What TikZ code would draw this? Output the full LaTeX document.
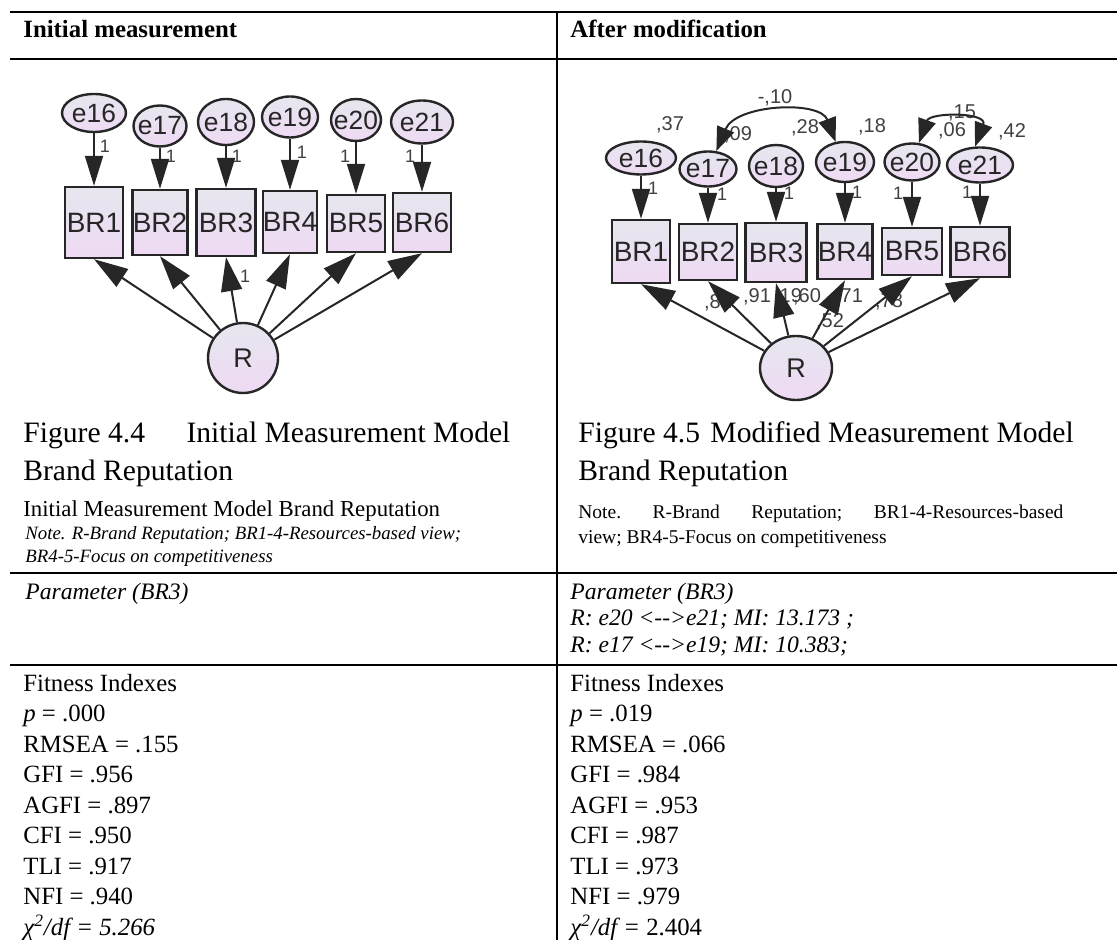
\documentclass[tikz,border=0pt]{standalone}
\usepackage{fontspec}
\setmainfont{Liberation Serif}
\newfontfamily\semfont{Liberation Sans}
\usetikzlibrary{arrows.meta,shapes.geometric}

\definecolor{inktone}{HTML}{262626}
\definecolor{semtop}{HTML}{E7E6EF}
\definecolor{sembot}{HTML}{EEDAF3}
\definecolor{numgray}{HTML}{404040}

\newcommand{\fsz}[1]{\fontsize{#1pt}{#1pt}\selectfont}

\tikzset{
  rule/.style={line width=0.8pt, black},
  body/.style={anchor=base west, inner sep=0pt, font=\fsz{12.4}},
  obsbox/.style={rectangle, draw=inktone, line width=1.2pt, top color=semtop, bottom color=sembot,
    font=\semfont\fsz{14}, text=inktone, inner sep=0pt},
  errnode/.style={ellipse, draw=inktone, line width=1.2pt, top color=semtop, bottom color=sembot,
    font=\semfont\fsz{13.2}, text=inktone, inner sep=0pt},
  latnode/.style={draw=inktone, line width=1.2pt, top color=semtop, bottom color=sembot,
    font=\semfont\fsz{13.5}, text=inktone, inner sep=0pt},
  reg/.style={line width=1pt, draw=inktone, -{Triangle[length=15pt,width=9pt]}},
  load/.style={line width=1pt, draw=inktone, -{Triangle[length=17pt,width=10.5pt]}},
  cov/.style={line width=1pt, draw=inktone,
    {Triangle[length=12pt,width=9pt]}-{Triangle[length=12pt,width=9pt]}},
  est/.style={font=\semfont\fsz{10}, text=numgray, inner sep=0pt},
  one/.style={font=\semfont\fsz{9}, text=numgray, inner sep=0pt},
}

\begin{document}
\begin{tikzpicture}[x=0.5pt,y=-0.5pt]
\useasboundingbox (0,0) rectangle (1117,940);
\fill[white] (0,0) rectangle (1117,940);

% ---------- table rules ----------
\draw[rule] (10,12) -- (1117,12);
\draw[rule] (10,59) -- (1117,59);
\draw[rule] (10,573) -- (1117,573);
\draw[rule] (10,665) -- (1117,665);
\draw[rule] (557,12) -- (557,940);

% ---------- headers ----------
\node[body, font=\bfseries\fsz{12.4}] (headL) at (23,38) {Initial measurement};
\node[body, font=\bfseries\fsz{12.4}] (headR) at (570,38) {After modification};

% ---------- initial model ----------
\node[obsbox, minimum width=29pt,   minimum height=35.5pt] (LB1) at (94,222.5)  {BR1};
\node[obsbox, minimum width=27.5pt, minimum height=32.5pt] (LB2) at (160,222.5) {BR2};
\node[obsbox, minimum width=29.5pt, minimum height=33.5pt] (LB3) at (226,222.5) {BR3};
\node[obsbox, minimum width=26.5pt, minimum height=31pt]   (LB4) at (290,222)   {BR4};
\node[obsbox, minimum width=29pt,   minimum height=28.5pt] (LB5) at (356,223.5) {BR5};
\node[obsbox, minimum width=29pt,   minimum height=29.5pt] (LB6) at (422,222.5) {BR6};

\node[errnode, minimum width=32pt,   minimum height=19pt]   (LE16) at (94,113)  {\makebox[0pt]{e16}};
\node[errnode, minimum width=26.5pt, minimum height=20.5pt] (LE17) at (160,126) {\makebox[0pt]{e17}};
\node[errnode, minimum width=28pt,   minimum height=23pt]   (LE18) at (226,122) {\makebox[0pt]{e18}};
\node[errnode, minimum width=28pt,   minimum height=20.5pt] (LE19) at (290,117) {\makebox[0pt]{e19}};
\node[errnode, minimum width=25pt,   minimum height=21pt]   (LE20) at (356,120) {\makebox[0pt]{e20}};
\node[errnode, minimum width=31pt,   minimum height=21.5pt] (LE21) at (422,122) {\makebox[0pt]{e21}};

\node[latnode, circle, minimum size=35pt] (LR) at (243,358) {R};

\node[one] (l1a) at (105,146) {1};
\node[one] (l1b) at (171,156) {1};
\node[one] (l1c) at (237,156) {1};
\node[one] (l1d) at (302,152) {1};
\node[one] (l1e) at (345,156) {1};
\node[one] (l1f) at (410,156) {1};
\node[one] (l1g) at (245,276) {1};

\draw[reg] (LE16) -- (LB1);
\draw[reg] (LE17) -- (LB2);
\draw[reg] (LE18) -- (LB3);
\draw[reg] (LE19) -- (LB4);
\draw[reg] (LE20) -- (LB5);
\draw[reg] (LE21) -- (LB6);
\foreach \b in {LB1,LB2,LB3,LB4,LB5,LB6}
  \draw[load] (LR) -- (\b.south);

% ---------- modified model ----------
\node[obsbox, minimum width=29pt,   minimum height=31.5pt] (RB1) at (641,251.5) {BR1};
\node[obsbox, minimum width=29pt,   minimum height=28pt]   (RB2) at (708,252)   {BR2};
\node[obsbox, minimum width=30.5pt, minimum height=29.5pt] (RB3) at (776,252.5) {BR3};
\node[obsbox, minimum width=27.5pt, minimum height=27.5pt] (RB4) at (845,251.5) {BR4};
\node[obsbox, minimum width=30pt,   minimum height=23.5pt] (RB5) at (912,251.5) {BR5};
\node[obsbox, minimum width=29.5pt, minimum height=25pt]   (RB6) at (980,252)   {BR6};

\node[errnode, minimum width=35pt,   minimum height=16.5pt] (RE16) at (641,158) {\makebox[0pt]{e16}};
\node[errnode, minimum width=28.5pt, minimum height=17.5pt] (RE17) at (708,169) {\makebox[0pt]{e17}};
\node[errnode, minimum width=27pt,   minimum height=21pt]   (RE18) at (776,166) {\makebox[0pt]{e18}};
\node[errnode, minimum width=29pt,   minimum height=20pt]   (RE19) at (845,162) {\makebox[0pt]{e19}};
\node[errnode, minimum width=27.5pt, minimum height=18.5pt] (RE20) at (912,162) {\makebox[0pt]{e20}};
\node[errnode, minimum width=33pt,   minimum height=17.5pt] (RE21) at (980,165) {\makebox[0pt]{e21}};

\node[latnode, ellipse, minimum width=36pt, minimum height=32pt] (RR) at (796,368) {\makebox[0pt]{R}};

% variances and covariances
\node[est] (v16) at (670,125) {,37};
\node[est] (v17) at (738,135) {,09};
\node[est] (v18) at (805,128) {,28};
\node[est] (v19) at (872,127) {,18};
\node[est] (v20) at (952,131) {,06};
\node[est] (v21) at (1012,132) {,42};
\node[est] (c1719) at (775,98) {-,10};
\node[est] (c2021) at (962,113) {,15};
% standardized loadings
\node[est] (w1) at (718,303) {,82};
\node[est] (w2) at (757,297) {,91};
\node[est] (w3) at (788,297) {,19};
\node[est] (w4) at (807,297) {,60};
\node[est] (w5) at (849,297) {,71};
\node[est] (w6) at (830,322) {,52};
\node[est] (w7) at (889,302) {,78};

\node[one] (r1a) at (653,188) {1};
\node[one] (r1b) at (722,194) {1};
\node[one] (r1c) at (789,193) {1};
\node[one] (r1d) at (857,192) {1};
\node[one] (r1e) at (898,193) {1};
\node[one] (r1f) at (967,192) {1};

\draw[reg] (RE16) -- (RB1);
\draw[reg] (RE17) -- (RB2);
\draw[reg] (RE18) -- (RB3);
\draw[reg] (RE19) -- (RB4);
\draw[reg] (RE20) -- (RB5);
\draw[reg] (RE21) -- (RB6);
\foreach \b in {RB1,RB2,RB3,RB4,RB5,RB6}
  \draw[load] (RR) -- (\b.south);

\draw[cov] (RE17.65) .. controls (736,104) and (820,100) .. (RE19.115);
\draw[cov] (RE20.70) .. controls (930,112) and (988,112) .. (RE21.105);

% ---------- captions and notes ----------
\node[body, font=\fsz{14.8}] (capL1) at (23,443) {\makebox[243.5pt][l]{Figure 4.4\hfill Initial Measurement Model}};
\node[body, font=\fsz{14.8}] (capL2) at (23,480) {Brand Reputation};
\node[body, font=\fsz{11.4}] (capL3) at (23,516) {Initial Measurement Model Brand Reputation};
\node[body, font=\itshape\fsz{9.4}] (noteL1) at (25,539) {Note. R-Brand Reputation; BR1-4-Resources-based view;};
\node[body, font=\itshape\fsz{9.4}] (noteL2) at (25,562) {BR4-5-Focus on competitiveness};

\node[body, font=\fsz{14.8}] (capR1) at (578,443) {Figure 4.5\hspace{0.35em}Modified Measurement Model};
\node[body, font=\fsz{14.8}] (capR2) at (578,480) {Brand Reputation};
\node[body, font=\fsz{9.75}] (noteR1) at (578,518) {\makebox[242.5pt][l]{Note.\hfill R-Brand\hfill Reputation;\hfill BR1-4-Resources-based}};
\node[body, font=\fsz{9.75}] (noteR2) at (578,543) {view; BR4-5-Focus on competitiveness};

% ---------- parameters ----------
\node[body, font=\itshape\fsz{11.8}] (parL) at (25,599) {Parameter (BR3)};
\node[body, font=\itshape\fsz{11.8}] (parR) at (570,599) {Parameter (BR3)};
\node[body, font=\itshape\fsz{11.8}] (miA) at (570,625.5) {R: e20 <{-}{-}>e21; MI: 13.173 ;};
\node[body, font=\itshape\fsz{11.8}] (miB) at (570,652) {R: e17 <{-}{-}>e19; MI: 10.383;};

% ---------- fit indices ----------
\node[body] (fL0) at (23,691)   {Fitness Indexes};
\node[body] (fL1) at (23,721.5) {\textit{p} = .000};
\node[body] (fL2) at (23,752)   {RMSEA = .155};
\node[body] (fL3) at (23,782.5) {GFI = .956};
\node[body] (fL4) at (23,813)   {AGFI = .897};
\node[body] (fL5) at (23,843.5) {CFI = .950};
\node[body] (fL6) at (23,874)   {TLI = .917};
\node[body] (fL7) at (23,904.5) {NFI = .940};
\node[body] (fL8) at (23,935)   {\textit{χ\textsuperscript{2}/df = 5.266}};

\node[body] (fR0) at (570,691)   {Fitness Indexes};
\node[body] (fR1) at (570,721.5) {\textit{p} = .019};
\node[body] (fR2) at (570,752)   {RMSEA = .066};
\node[body] (fR3) at (570,782.5) {GFI = .984};
\node[body] (fR4) at (570,813)   {AGFI = .953};
\node[body] (fR5) at (570,843.5) {CFI = .987};
\node[body] (fR6) at (570,874)   {TLI = .973};
\node[body] (fR7) at (570,904.5) {NFI = .979};
\node[body] (fR8) at (570,935)   {\textit{χ\textsuperscript{2}/df =} 2.404};
\end{tikzpicture}
\end{document}
